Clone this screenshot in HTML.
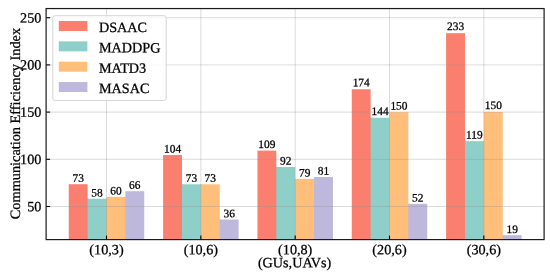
<!DOCTYPE html>
<html><head><meta charset="utf-8"><title>chart</title>
<style>
html,body{margin:0;padding:0;background:#fff;}
svg{display:block;font-family:"Liberation Serif",serif;}
text{text-rendering:geometricPrecision;fill:#000;stroke:#000;stroke-width:0.26px;}
</style></head><body>
<svg width="550" height="273" viewBox="0 0 550 273">
<rect width="550" height="273" fill="#fff"/>
<g>
<rect x="68.76" y="184.21" width="18.87" height="55.39" fill="#FA7F6F"/>
<rect x="86.63" y="198.75" width="2" height="40.85" fill="#FA7F6F"/>
<rect x="87.63" y="198.75" width="18.87" height="40.85" fill="#8ECFC9"/>
<rect x="105.50" y="198.75" width="2" height="40.85" fill="#8ECFC9"/>
<rect x="106.50" y="196.86" width="18.87" height="42.74" fill="#FFBE7A"/>
<rect x="124.37" y="196.86" width="2" height="42.74" fill="#FFBE7A"/>
<rect x="125.37" y="191.20" width="18.87" height="48.40" fill="#BEB8DC"/>
<rect x="163.11" y="155.04" width="18.87" height="84.56" fill="#FA7F6F"/>
<rect x="180.98" y="184.30" width="2" height="55.30" fill="#FA7F6F"/>
<rect x="181.98" y="184.30" width="18.87" height="55.30" fill="#8ECFC9"/>
<rect x="199.85" y="184.30" width="2" height="55.30" fill="#8ECFC9"/>
<rect x="200.85" y="184.30" width="18.87" height="55.30" fill="#FFBE7A"/>
<rect x="218.72" y="219.52" width="2" height="20.08" fill="#FFBE7A"/>
<rect x="219.72" y="219.52" width="18.87" height="20.08" fill="#BEB8DC"/>
<rect x="257.46" y="150.60" width="18.87" height="89.00" fill="#FA7F6F"/>
<rect x="275.33" y="167.03" width="2" height="72.57" fill="#FA7F6F"/>
<rect x="276.33" y="167.03" width="18.87" height="72.57" fill="#8ECFC9"/>
<rect x="294.20" y="178.92" width="2" height="60.68" fill="#8ECFC9"/>
<rect x="295.20" y="178.92" width="18.87" height="60.68" fill="#FFBE7A"/>
<rect x="313.07" y="178.92" width="2" height="60.68" fill="#FFBE7A"/>
<rect x="314.07" y="177.04" width="18.87" height="62.56" fill="#BEB8DC"/>
<rect x="351.76" y="89.24" width="18.87" height="150.36" fill="#FA7F6F"/>
<rect x="369.63" y="117.75" width="2" height="121.85" fill="#FA7F6F"/>
<rect x="370.63" y="117.75" width="18.87" height="121.85" fill="#8ECFC9"/>
<rect x="388.50" y="117.75" width="2" height="121.85" fill="#8ECFC9"/>
<rect x="389.50" y="112.18" width="18.87" height="127.42" fill="#FFBE7A"/>
<rect x="407.37" y="203.85" width="2" height="35.75" fill="#FFBE7A"/>
<rect x="408.37" y="203.85" width="18.87" height="35.75" fill="#BEB8DC"/>
<rect x="446.11" y="33.17" width="18.87" height="206.43" fill="#FA7F6F"/>
<rect x="463.98" y="141.16" width="2" height="98.44" fill="#FA7F6F"/>
<rect x="464.98" y="141.16" width="18.87" height="98.44" fill="#8ECFC9"/>
<rect x="482.85" y="141.16" width="2" height="98.44" fill="#8ECFC9"/>
<rect x="483.85" y="111.90" width="18.87" height="127.70" fill="#FFBE7A"/>
<rect x="501.72" y="235.19" width="2" height="4.41" fill="#FFBE7A"/>
<rect x="502.72" y="235.19" width="18.87" height="4.41" fill="#BEB8DC"/>
</g>
<g stroke="#909090" stroke-opacity="0.32" stroke-width="1" fill="none">
<line x1="106.5" y1="8.55" x2="106.5" y2="239.6"/>
<line x1="200.85" y1="8.55" x2="200.85" y2="239.6"/>
<line x1="295.2" y1="8.55" x2="295.2" y2="239.6"/>
<line x1="389.5" y1="8.55" x2="389.5" y2="239.6"/>
<line x1="483.85" y1="8.55" x2="483.85" y2="239.6"/>
<line x1="46.1" y1="206.50" x2="544.1" y2="206.50"/>
<line x1="46.1" y1="159.30" x2="544.1" y2="159.30"/>
<line x1="46.1" y1="112.10" x2="544.1" y2="112.10"/>
<line x1="46.1" y1="64.90" x2="544.1" y2="64.90"/>
<line x1="46.1" y1="17.70" x2="544.1" y2="17.70"/>
</g>
<g font-size="11.4">
<text transform="matrix(1,0.0005,0,1,78.19,181.77)" text-anchor="middle">73</text>
<text transform="matrix(1,0.0005,0,1,97.06,196.38)" text-anchor="middle">58</text>
<text transform="matrix(1,0.0005,0,1,115.94,194.48)" text-anchor="middle">60</text>
<text transform="matrix(1,0.0005,0,1,134.81,188.79)" text-anchor="middle">66</text>
<text transform="matrix(1,0.0005,0,1,172.54,152.45)" text-anchor="middle">104</text>
<text transform="matrix(1,0.0005,0,1,191.41,181.86)" text-anchor="middle">73</text>
<text transform="matrix(1,0.0005,0,1,210.28,181.86)" text-anchor="middle">73</text>
<text transform="matrix(1,0.0005,0,1,229.16,217.25)" text-anchor="middle">36</text>
<text transform="matrix(1,0.0005,0,1,266.89,147.99)" text-anchor="middle">109</text>
<text transform="matrix(1,0.0005,0,1,285.76,164.50)" text-anchor="middle">92</text>
<text transform="matrix(1,0.0005,0,1,304.63,176.45)" text-anchor="middle">79</text>
<text transform="matrix(1,0.0005,0,1,323.50,174.56)" text-anchor="middle">81</text>
<text transform="matrix(1,0.0005,0,1,361.19,86.33)" text-anchor="middle">174</text>
<text transform="matrix(1,0.0005,0,1,380.06,114.98)" text-anchor="middle">144</text>
<text transform="matrix(1,0.0005,0,1,398.94,109.38)" text-anchor="middle">150</text>
<text transform="matrix(1,0.0005,0,1,417.81,201.50)" text-anchor="middle">52</text>
<text transform="matrix(1,0.0005,0,1,455.55,29.97)" text-anchor="middle">233</text>
<text transform="matrix(1,0.0005,0,1,474.42,138.50)" text-anchor="middle">119</text>
<text transform="matrix(1,0.0005,0,1,493.29,109.10)" text-anchor="middle">150</text>
<text transform="matrix(1,0.0005,0,1,512.15,233.00)" text-anchor="middle">19</text>
</g>
<g stroke="#000" stroke-width="1.1">
<line x1="106.5" y1="239.6" x2="106.5" y2="235.6"/>
<line x1="200.85" y1="239.6" x2="200.85" y2="235.6"/>
<line x1="295.2" y1="239.6" x2="295.2" y2="235.6"/>
<line x1="389.5" y1="239.6" x2="389.5" y2="235.6"/>
<line x1="483.85" y1="239.6" x2="483.85" y2="235.6"/>
<line x1="46.1" y1="206.50" x2="50.1" y2="206.50"/>
<line x1="46.1" y1="159.30" x2="50.1" y2="159.30"/>
<line x1="46.1" y1="112.10" x2="50.1" y2="112.10"/>
<line x1="46.1" y1="64.90" x2="50.1" y2="64.90"/>
<line x1="46.1" y1="17.70" x2="50.1" y2="17.70"/>
</g>
<rect x="46.1" y="8.55" width="498.0" height="231.04999999999998" fill="none" stroke="#1a1a1a" stroke-width="1.2"/>
<g font-size="14.2">
<text transform="matrix(1,0.0005,0,1,41.40,211.20)" text-anchor="end">50</text>
<text transform="matrix(1,0.0005,0,1,41.40,164.00)" text-anchor="end">100</text>
<text transform="matrix(1,0.0005,0,1,41.40,116.80)" text-anchor="end">150</text>
<text transform="matrix(1,0.0005,0,1,41.40,69.60)" text-anchor="end">200</text>
<text transform="matrix(1,0.0005,0,1,41.40,22.40)" text-anchor="end">250</text>
<text transform="matrix(1,0.0005,0,1,106.50,254.20)" text-anchor="middle">(10,3)</text>
<text transform="matrix(1,0.0005,0,1,200.85,254.20)" text-anchor="middle">(10,6)</text>
<text transform="matrix(1,0.0005,0,1,295.20,254.20)" text-anchor="middle">(10,8)</text>
<text transform="matrix(1,0.0005,0,1,389.50,254.20)" text-anchor="middle">(20,6)</text>
<text transform="matrix(1,0.0005,0,1,483.85,254.20)" text-anchor="middle">(30,6)</text>
<text transform="matrix(1,0.0005,0,1,294.60,267.20)" text-anchor="middle">(GUs,UAVs)</text>
<text transform="translate(19.8,123.55) rotate(-90)" text-anchor="middle" font-size="14.32">Communication Efficiency Index</text>
</g>
<rect x="52.8" y="15.7" width="113.4" height="84.8" rx="2.5" ry="2.5" fill="#fff" fill-opacity="0.8" stroke="#ccc" stroke-opacity="0.8" stroke-width="1"/>
<g font-size="14.2">
<rect x="58.8" y="21.00" width="28.6" height="10" fill="#FA7F6F"/>
<text transform="matrix(1,0.0005,0,1,98.90,32.00)">DSAAC</text>
<rect x="58.8" y="41.35" width="28.6" height="10" fill="#8ECFC9"/>
<text transform="matrix(1,0.0005,0,1,98.90,52.35)">MADDPG</text>
<rect x="58.8" y="61.70" width="28.6" height="10" fill="#FFBE7A"/>
<text transform="matrix(1,0.0005,0,1,98.90,72.70)">MATD3</text>
<rect x="58.8" y="82.05" width="28.6" height="10" fill="#BEB8DC"/>
<text transform="matrix(1,0.0005,0,1,98.90,93.05)">MASAC</text>
</g>
</svg></body></html>
